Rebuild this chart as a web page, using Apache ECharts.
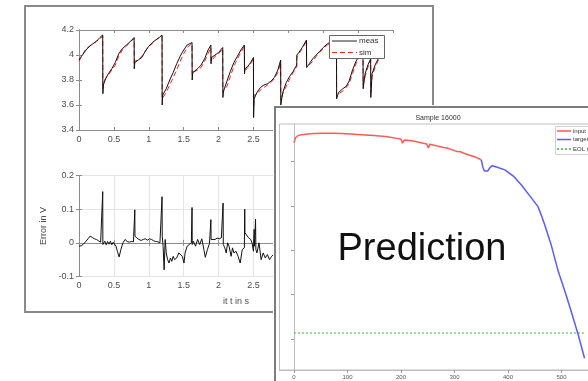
<!DOCTYPE html>
<html>
<head>
<meta charset="utf-8">
<script src="https://cdn.jsdelivr.net/npm/echarts@6/dist/echarts.min.js"></script>
<style>
html,body{margin:0;padding:0;width:588px;height:381px;overflow:hidden;background:#fff;}
#a{position:absolute;left:0;top:0;width:588px;height:381px;}
#b{position:absolute;left:273px;top:105px;width:332px;height:290px;}
</style>
</head>
<body>
<div id="a"></div>
<div id="b"></div>
<script>
// ---- Left panel: measured vs simulated voltage ----
const measT = [0,0.02,0.05,0.1,0.15,0.2,0.25,0.3,0.34, 0.342,0.35,0.38,0.42,0.47,0.52,0.57,0.62,0.68,0.74,0.79, 0.792,0.8,0.85,0.9,0.95,1.0,1.05,1.1,1.15,1.19, 1.192,1.2,1.25,1.3,1.35,1.4,1.45,1.5,1.55,1.62, 1.622,1.63,1.7,1.75,1.8,1.85,1.89, 1.892,1.9,1.95,2.0,2.06, 2.062,2.07,2.12,2.17,2.22,2.27,2.32,2.37, 2.372,2.38,2.42,2.46,2.5, 2.502,2.51,2.55,2.6,2.65,2.7,2.75,2.8,2.85,2.89, 2.892,2.92,2.97,3.02,3.07,3.12, 3.122,3.15,3.2,3.26, 3.262,3.3,3.35,3.4,3.45,3.5,3.56,3.62,3.69, 3.692,3.72,3.78,3.83,3.87,3.92,3.97,4.02,4.07, 4.072,4.1,4.14,4.18, 4.182,4.2,4.25,4.3,4.35];
const measV = [3.96,3.98,4.0,4.04,4.07,4.09,4.11,4.14,4.16, 3.69,3.76,3.81,3.85,3.89,3.94,4.01,4.05,4.08,4.11,4.14, 3.89,3.94,3.96,3.98,4.03,4.07,4.10,4.12,4.14,4.16, 3.60,3.68,3.73,3.80,3.86,3.93,3.99,4.04,4.08,4.10, 3.80,3.86,3.89,3.92,3.97,4.04,4.08, 3.93,3.98,4.00,4.02,4.06, 3.66,3.71,3.79,3.87,3.94,3.99,4.04,4.08, 3.85,3.89,3.91,3.94,3.98, 3.50,3.65,3.70,3.74,3.76,3.77,3.79,3.82,3.88,3.96, 3.60,3.70,3.78,3.83,3.87,3.92, 4.00,4.02,4.06,4.12, 3.90,3.93,3.97,4.00,4.03,4.06,4.09,4.11,4.13, 3.65,3.70,3.73,3.75,3.79,3.88,3.95,4.00,4.03, 3.73,3.85,3.92,3.97, 3.66,3.85,3.93,3.98,4.03];
const simV = [3.95,3.97,4.0,4.05,4.07,4.09,4.11,4.13,4.15, 3.73,3.78,3.81,3.84,3.88,3.92,3.99,4.04,4.07,4.11,4.13, 3.92,3.95,3.96,3.99,4.03,4.07,4.09,4.12,4.14,4.15, 3.65,3.66,3.70,3.76,3.82,3.88,3.95,4.01,4.06,4.09, 3.84,3.86,3.88,3.90,3.95,4.01,4.06, 3.95,3.96,3.99,4.01,4.05, 3.70,3.69,3.75,3.83,3.91,3.97,4.02,4.07, 3.87,3.88,3.90,3.93,3.97, 3.58,3.68,3.69,3.72,3.74,3.76,3.78,3.81,3.86,3.94, 3.64,3.69,3.75,3.81,3.86,3.90, 3.98,4.01,4.05,4.11, 3.92,3.92,3.95,3.99,4.02,4.05,4.08,4.10,4.12, 3.68,3.69,3.71,3.74,3.77,3.85,3.93,3.98,4.02, 3.76,3.83,3.90,3.96, 3.70,3.83,3.91,3.97,4.02];

const errT = [0,0.02,0.04,0.06,0.08,0.1,0.13,0.16,0.19,0.22,0.25,0.28,0.31,0.335,0.34,0.342,0.36,0.37,0.39,0.41,0.43,0.45,0.47,0.49,0.51,0.53,0.55,0.575,0.6,0.63,0.66,0.69,0.72,0.75,0.78,0.795,0.8,0.802,0.83,0.86,0.89,0.92,0.95,0.98,1.01,1.04,1.07,1.1,1.13,1.16,1.185,1.19,1.193,1.205,1.22,1.235,1.25,1.27,1.29,1.31,1.33,1.35,1.37,1.4,1.43,1.45,1.48,1.505,1.52,1.55,1.58,1.61,1.62,1.623,1.64,1.67,1.7,1.73,1.76,1.79,1.81,1.84,1.87,1.885,1.89,1.893,1.92,1.95,1.98,2.01,2.04,2.06,2.065,2.068,2.09,2.11,2.13,2.15,2.18,2.2,2.22,2.25,2.28,2.31,2.34,2.37,2.375,2.378,2.4,2.43,2.46,2.48,2.5,2.51,2.515,2.53,2.535,2.55,2.58,2.61,2.64,2.67,2.7,2.73,2.76,2.79,2.82,2.86,2.89,2.892,2.95,3.0,3.1,3.2,3.26,3.262,3.35,3.45,3.55,3.65,3.69,3.692,3.8,3.9,4.0,4.07,4.072,4.15,4.18,4.182,4.25,4.35];
const errV = [-0.01,-0.012,-0.008,-0.005,0.0,0.005,0.012,0.02,0.016,0.012,0.01,0.006,0.002,0.0,0.152,-0.005,-0.008,0.005,-0.006,0.004,-0.004,0.005,-0.006,0.002,-0.004,-0.01,-0.025,-0.042,-0.02,0.0,0.01,0.004,0.002,0.004,0.003,0.004,0.098,0.02,0.014,0.01,0.007,0.01,0.012,0.008,0.012,0.01,0.006,0.004,0.003,0.0,0.002,0.137,0.02,-0.01,-0.08,0.01,-0.03,-0.05,-0.06,-0.045,-0.055,-0.04,-0.05,-0.045,-0.03,-0.035,-0.04,-0.06,-0.03,-0.01,-0.005,0.0,0.105,-0.005,0.005,-0.01,0.01,-0.005,0.012,-0.02,-0.043,-0.02,-0.002,0.0,0.069,0.01,0.012,0.01,0.014,0.012,0.015,0.015,0.118,-0.005,-0.015,-0.03,0.0,-0.01,-0.04,-0.015,-0.03,-0.025,-0.04,-0.06,-0.02,-0.015,0.1,0.03,0.025,0.015,0.01,0.0,-0.025,0.04,-0.01,0.07,-0.02,-0.03,0.0,-0.05,-0.03,-0.045,-0.035,-0.05,-0.04,-0.035,-0.02,-0.01,0.0,0.08,-0.02,-0.03,-0.04,-0.02,-0.01,0.09,-0.02,-0.03,-0.01,0.0,0.01,0.1,-0.04,-0.02,0.0,0.01,0.08,-0.03,0.0,0.07,-0.02,0.0];

const voltageLegend = ['meas', 'sim'];

// ---- Right panel: prediction ----
const inputX = [0,3,8,15,30,50,75,100,125,150,175,195,200,203,206,220,240,248,251,254,270,280,283,286,300,305,308,311,320,330,340,350];
const inputY = [1.085,1.108,1.118,1.122,1.126,1.128,1.128,1.126,1.122,1.118,1.112,1.104,1.102,1.083,1.098,1.094,1.084,1.080,1.062,1.079,1.070,1.064,1.056,1.062,1.050,1.046,1.038,1.045,1.036,1.028,1.020,1.008];
const targetX = [350,353,356,359,362,366,370,380,394,410,425,440,456,462,469,480,494,507,519,531,543];
const targetY = [1.008,0.975,0.958,0.962,0.958,0.972,0.982,0.975,0.963,0.935,0.895,0.848,0.797,0.760,0.712,0.630,0.504,0.410,0.317,0.220,0.113];
const eolX = [0,545];
const eolY = [0.227,0.227];
const predTicks = [0,100,200,300,400,500];
const predYTicks = [0.2,0.4,0.6,0.8,1.0];
const predLegend = ['input', 'target', 'EOL threshold'];

const zip = (xs, ys) => xs.map((x, i) => [x, ys[i]]);
const FONT = "'Liberation Sans', Arial, sans-serif";
const AX = '#8c8c8c';
const LBL = '#4d4d4d';

function boxAxes(gi, min, max, interval, pos, showLabel, extra) {
  return Object.assign({
    type: 'value', gridIndex: gi, min: min, max: max, interval: interval, position: pos,
    axisLine: {show: true, lineStyle: {color: AX, width: 1}},
    axisTick: {show: true, inside: true, length: 3, lineStyle: {color: AX}},
    axisLabel: {show: showLabel, color: LBL, fontSize: 9, fontFamily: FONT, margin: 5},
    splitLine: {show: false}
  }, extra || {});
}

// legend drawn as graphic (plain line samples, no markers)
function legendGraphic(names, colors, dashes, box, lineX0, lineX1, textX, rowY, fontSize, lineW, boxStroke) {
  const els = [{type: 'rect', z: 60, shape: box, style: {fill: '#fff', stroke: boxStroke, lineWidth: 1}}];
  names.forEach((n, i) => {
    els.push({type: 'line', z: 61, shape: {x1: lineX0, y1: rowY[i], x2: lineX1, y2: rowY[i]},
      style: {stroke: colors[i], lineWidth: lineW, lineDash: dashes[i]}});
    els.push({type: 'text', z: 61, x: textX, y: rowY[i],
      style: {text: n, fill: '#333', font: fontSize + 'px ' + FONT, align: 'left', verticalAlign: 'middle'}});
  });
  return els;
}

const chartA = echarts.init(document.getElementById('a'), null, {renderer: 'canvas'});
chartA.setOption({
  animation: false,
  backgroundColor: '#fff',
  textStyle: {fontFamily: FONT},
  graphic: [{
    type: 'rect', z: 0,
    shape: {x: 25, y: 6, width: 408, height: 306},
    style: {fill: '#fff', stroke: '#8a8a8a', lineWidth: 2}
  }].concat(legendGraphic(voltageLegend, ['#222', '#ff2020'], [null, [5, 3]],
      {x: 329.5, y: 35.5, width: 55, height: 23}, 332, 357, 359, [41, 52.5], 8, 1, '#666')),
  grid: [
    {left: 79, top: 30, width: 314, height: 100},
    {left: 79, top: 175.5, width: 314, height: 101}
  ],
  xAxis: [
    boxAxes(0, 0, 4.5, 0.5, 'bottom', true),
    boxAxes(0, 0, 4.5, 0.5, 'top', false),
    boxAxes(1, 0, 4.5, 0.5, 'bottom', true, {
      name: 'it t in s', nameLocation: 'middle', nameGap: 21,
      nameTextStyle: {color: LBL, fontSize: 9, fontFamily: FONT},
      splitLine: {show: true, lineStyle: {color: '#e4e4e4', width: 1}}
    }),
    boxAxes(1, 0, 4.5, 0.5, 'top', false)
  ],
  yAxis: [
    boxAxes(0, 3.4, 4.2, 0.2, 'left', true),
    boxAxes(0, 3.4, 4.2, 0.2, 'right', false),
    boxAxes(1, -0.1, 0.2, 0.1, 'left', true, {
      name: 'Error in V', nameLocation: 'middle', nameGap: 26, nameRotate: 90,
      nameTextStyle: {color: LBL, fontSize: 9, fontFamily: FONT},
      splitLine: {show: true, lineStyle: {color: '#e4e4e4', width: 1}}
    }),
    boxAxes(1, -0.1, 0.2, 0.1, 'right', false)
  ],
  series: [
    {name: voltageLegend[0], type: 'line', xAxisIndex: 0, yAxisIndex: 0, data: zip(measT, measV),
     symbol: 'none', lineStyle: {color: '#111', width: 1}, z: 3},
    {name: voltageLegend[1], type: 'line', xAxisIndex: 0, yAxisIndex: 0, data: zip(measT, simV),
     symbol: 'none', lineStyle: {color: '#ff2020', width: 1, type: [5, 3]}, z: 2},
    {name: 'err', type: 'line', xAxisIndex: 2, yAxisIndex: 2, data: zip(errT, errV),
     symbol: 'none', lineStyle: {color: '#111', width: 1}, z: 3}
  ]
});

const chartB = echarts.init(document.getElementById('b'), null, {renderer: 'canvas'});
const PA = '#bdbdbd';
const predColors = ['#ff5a5a', '#5a5aff', '#3cb43c'];
chartB.setOption({
  animation: false,
  backgroundColor: '#fff',
  textStyle: {fontFamily: FONT},
  graphic: [
    {type: 'rect', z: 100, shape: {x: 2, y: 2, width: 400, height: 400},
     style: {fill: 'none', stroke: '#7d7d7d', lineWidth: 2}},
    {type: 'text', z: 100, x: 165, y: 13,
     style: {text: 'Sample 16000', fill: '#333', font: '7px ' + FONT, align: 'center', verticalAlign: 'middle'}},
    {type: 'text', z: 100, x: 149, y: 145,
     style: {text: 'Prediction', fill: '#111', font: '38px ' + FONT, align: 'center', verticalAlign: 'middle'}}
  ].concat(legendGraphic(predLegend, predColors, [null, null, [2, 2]],
      {x: 282.5, y: 21.5, width: 60, height: 28}, 284, 298, 300, [26, 34.5, 44], 6, 1.5, '#d0d0d0')),
  grid: {left: 6.5, top: 19, right: 6, bottom: 25, show: true, borderColor: PA, borderWidth: 1, backgroundColor: 'transparent'},
  xAxis: {
    type: 'value', min: -27, max: 570,
    axisLine: {show: true, lineStyle: {color: PA}},
    axisTick: {show: true, length: 3, customValues: predTicks, lineStyle: {color: '#999'}},
    axisLabel: {show: true, customValues: predTicks, color: '#555', fontSize: 6, fontFamily: FONT, margin: 4},
    splitLine: {show: false}
  },
  yAxis: {
    type: 'value', min: 0.06, max: 1.17,
    axisLine: {show: true, lineStyle: {color: PA}},
    axisTick: {show: true, length: 3, customValues: predYTicks, lineStyle: {color: '#999'}},
    axisLabel: {show: false},
    splitLine: {show: false}
  },
  series: [
    {name: predLegend[0], type: 'line', data: zip(inputX, inputY), symbol: 'none',
     lineStyle: {color: predColors[0], width: 1.5}},
    {name: predLegend[1], type: 'line', data: zip(targetX, targetY), symbol: 'none',
     lineStyle: {color: predColors[1], width: 1.5}},
    {name: predLegend[2], type: 'line', data: zip(eolX, eolY), symbol: 'none',
     lineStyle: {color: predColors[2], width: 1.2, type: [2, 2]}}
  ]
});
</script>
</body>
</html>
